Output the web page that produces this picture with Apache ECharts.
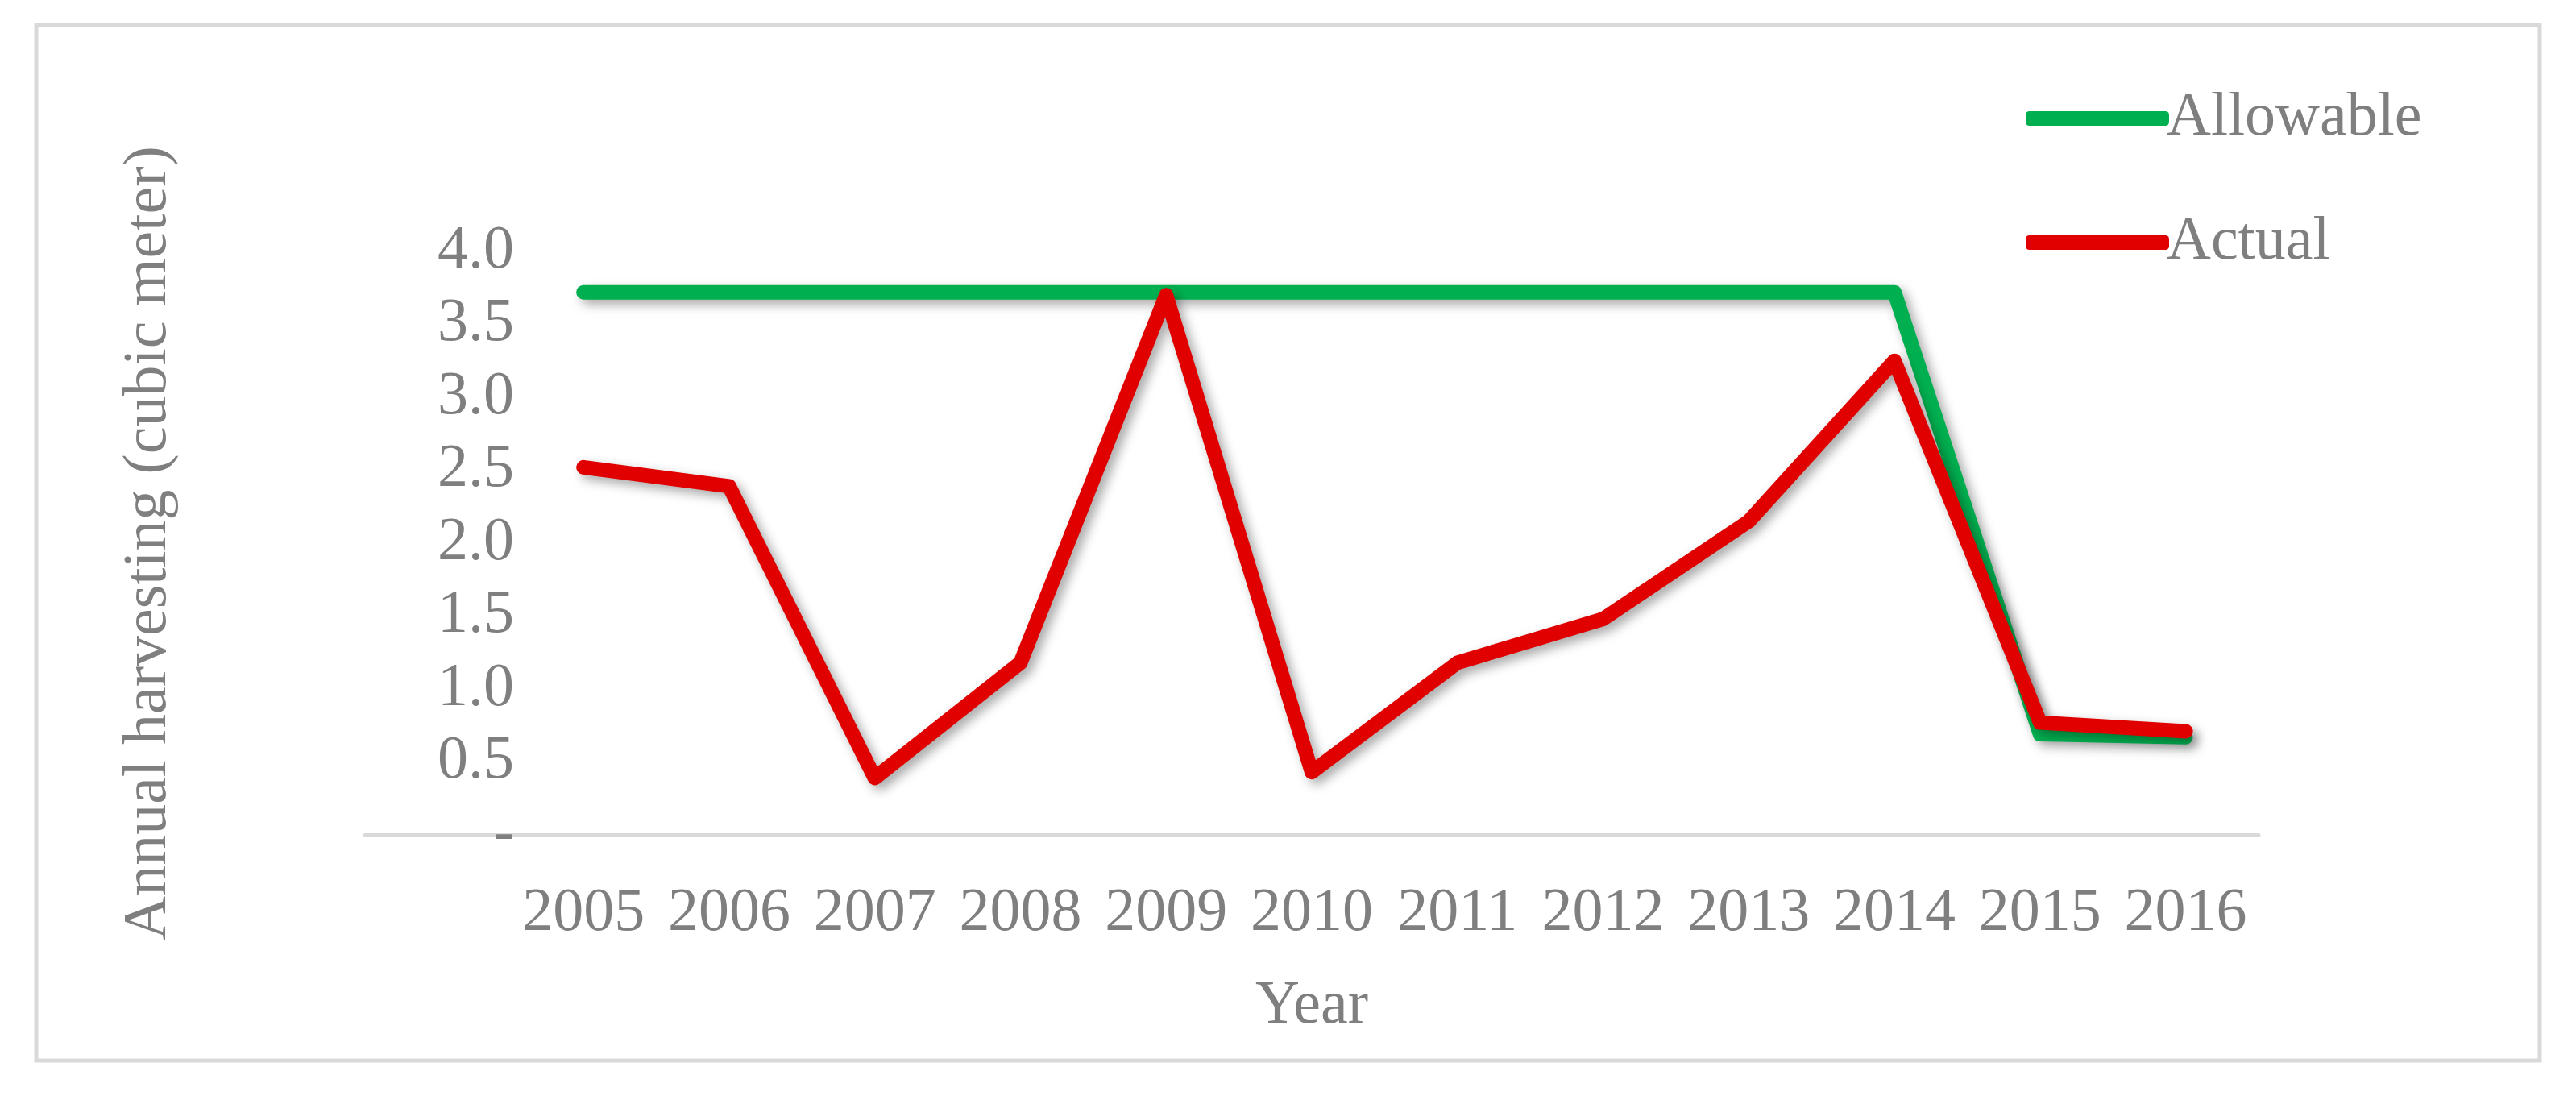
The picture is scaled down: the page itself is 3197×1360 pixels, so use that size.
<!DOCTYPE html>
<html><head><meta charset="utf-8">
<script src="https://cdn.jsdelivr.net/npm/echarts@6/dist/echarts.min.js"></script>
<style>html,body{margin:0;padding:0;background:#fff}#c{width:3197px;height:1360px}</style>
</head><body><div id="c"></div>
<script>
var categories = ['', '2005','2006','2007','2008','2009','2010','2011','2012','2013','2014','2015','2016'];
var allowable = [null, 3.72,3.72,3.72,3.72,3.72,3.72,3.72,3.72,3.72,3.72,0.69,0.67];
var actual = [null, 2.52,2.39,0.39,1.18,3.70,0.43,1.18,1.48,2.15,3.25,0.77,0.71];
var yTicks = [0,0.5,1,1.5,2,2.5,3,3.5,4];
var font = 'Liberation Serif';
var chart = echarts.init(document.getElementById('c'));
function ser(name, data, color){
  return {name:name, type:'line', data:data, symbol:'none', connectNulls:false,
    lineStyle:{color:color, width:18, cap:'round', join:'round', shadowColor:'rgba(0,0,0,0.35)', shadowBlur:14, shadowOffsetX:6, shadowOffsetY:6},
    itemStyle:{color:color}};
}
chart.setOption({
  animation:false,
  graphic:[{type:'rect', shape:{x:45,y:31,width:3107,height:1285}, style:{fill:'none', stroke:'#d9d9d9', lineWidth:5}}],
  legend:{orient:'vertical', left:2509, top:100, icon:'roundRect', itemWidth:178, itemHeight:18, itemGap:70,
    textStyle:{fontFamily:font, fontSize:76, color:'#7f7f7f', lineHeight:84, padding:[0,0,0,-8]},
    data:['Allowable','Actual']},
  grid:{left:453, right:394, top:312, bottom:324},
  xAxis:{type:'category', data:categories, boundaryGap:true,
    name:'Year', nameLocation:'middle', nameGap:175,
    nameTextStyle:{fontFamily:font, fontSize:76, color:'#7f7f7f'},
    axisLine:{lineStyle:{color:'#d9d9d9', width:5}}, axisTick:{show:false},
    axisLabel:{fontFamily:font, fontSize:76, color:'#7f7f7f', margin:60, interval:0}},
  yAxis:{type:'value', min:0, max:4, interval:0.5,
    name:'Annual harvesting (cubic meter)', nameLocation:'middle', nameGap:230,
    nameTextStyle:{fontFamily:font, fontSize:76, color:'#7f7f7f'},
    axisLine:{show:false}, axisTick:{show:false}, splitLine:{show:false},
    axisLabel:{fontFamily:font, fontSize:76, color:'#7f7f7f', margin:-185, align:'right',
      formatter:function(v){ if (yTicks.indexOf(v)<0) return ''; return v===0?'-':v.toFixed(1);} }},
  series:[ser('Allowable', allowable, '#00b050'), ser('Actual', actual, '#e00000')]
});
</script></body></html>
